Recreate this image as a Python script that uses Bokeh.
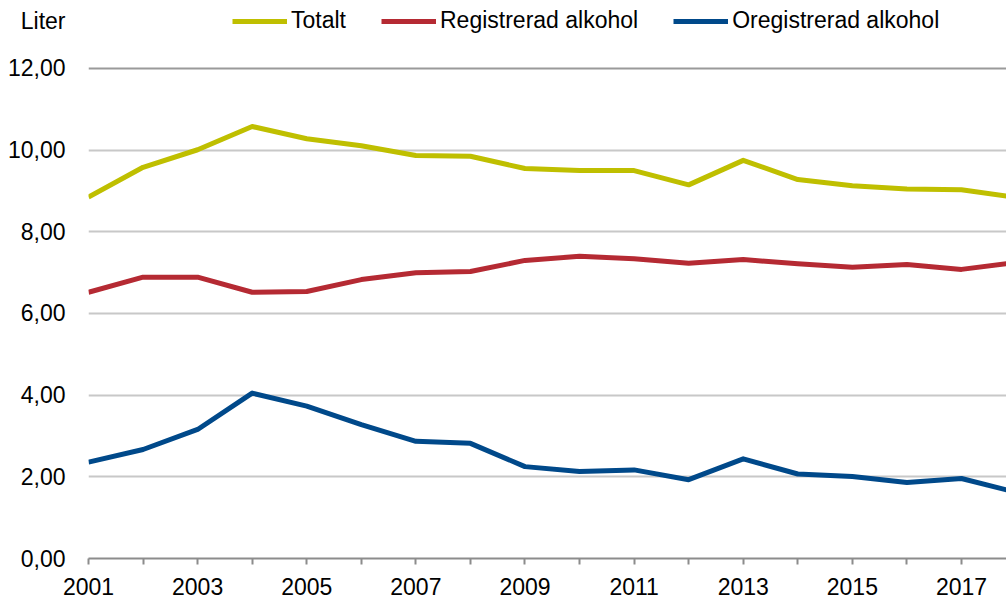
from bokeh.plotting import figure
from bokeh.models import (ColumnDataSource, FixedTicker, Legend, LegendItem, Range1d, Grid)
from bokeh.embed import file_html
from bokeh.resources import INLINE

years = list(range(2001, 2019))
totalt = [8.85, 9.58, 10.01, 10.58, 10.28, 10.11, 9.87, 9.85, 9.55, 9.50,
          9.50, 9.15, 9.75, 9.28, 9.13, 9.05, 9.03, 8.84]
registrerad = [6.52, 6.89, 6.89, 6.52, 6.54, 6.83, 7.00, 7.03, 7.30, 7.40,
               7.34, 7.23, 7.32, 7.22, 7.13, 7.20, 7.08, 7.25]
oregistrerad = [2.36, 2.67, 3.16, 4.05, 3.73, 3.28, 2.87, 2.82, 2.25, 2.13,
                2.17, 1.93, 2.44, 2.07, 2.01, 1.86, 1.96, 1.62]
series_names = ["Totalt", "Registrerad alkohol", "Oregistrerad alkohol"]
series_colors = ["#bfbf00", "#b52a33", "#00498a"]
y_ticks = [0, 2, 4, 6, 8, 10, 12]
y_tick_labels = ["0,00", "2,00", "4,00", "6,00", "8,00", "10,00", "12,00"]
x_label_years = list(range(2001, 2018, 2))
x_minor_years = list(range(2002, 2019, 2))
unit_label = "Liter"

FONT = "Liberation Sans"
FS = "23px"

Y_TOP = 13.665          # frame reaches the canvas top so the header row fits inside it
UNIT_POS = 13.16        # height (in axis units) of the header row holding the unit label

p = figure(width=1006, height=601, output_backend="svg", toolbar_location=None,
           x_range=Range1d(2001, 2017.825), y_range=Range1d(0, Y_TOP))
p.min_border_left = 88
p.min_border_right = 0
p.min_border_top = 0
p.min_border_bottom = 43
p.outline_line_color = None
p.background_fill_color = "white"
p.border_fill_color = "white"

src = ColumnDataSource(dict(year=years, t=totalt, r=registrerad, o=oregistrerad))
renderers = []
for col, color in zip(["t", "r", "o"], series_colors):
    r = p.line("year", col, source=src, line_color=color, line_width=5,
               line_join="round", line_cap="butt")
    renderers.append(r)

# x axis
p.xaxis.ticker = FixedTicker(ticks=x_label_years, minor_ticks=x_minor_years)
p.xaxis.axis_line_color = "#8c8c8c"
p.xaxis.axis_line_width = 2
p.xaxis.major_tick_line_color = "#8c8c8c"
p.xaxis.minor_tick_line_color = "#8c8c8c"
p.xaxis.major_tick_line_width = 2
p.xaxis.minor_tick_line_width = 2
p.xaxis.major_tick_in = 0
p.xaxis.major_tick_out = 6
p.xaxis.minor_tick_in = 0
p.xaxis.minor_tick_out = 6
p.xaxis.major_label_standoff = 13
p.xaxis.major_label_text_font = FONT
p.xaxis.major_label_text_font_size = FS
p.xaxis.major_label_text_color = "black"

# y axis: tick labels plus the unit label in the header row
p.yaxis.ticker = FixedTicker(ticks=y_ticks + [UNIT_POS], minor_ticks=[])
overrides = {t: l for t, l in zip(y_ticks, y_tick_labels)}
overrides[UNIT_POS] = unit_label
p.yaxis.major_label_overrides = overrides
p.yaxis.axis_line_color = None
p.yaxis.major_tick_line_color = None
p.yaxis.minor_tick_line_color = None
p.yaxis.major_tick_out = 0
p.yaxis.major_tick_in = 0
p.yaxis.major_label_standoff = 23
p.yaxis.major_label_text_font = FONT
p.yaxis.major_label_text_font_size = FS
p.yaxis.major_label_text_color = "black"

# grids
p.ygrid.ticker = FixedTicker(ticks=y_ticks[1:-1])
p.ygrid.grid_line_color = "#c8c8c8"
p.ygrid.grid_line_width = 2
# vertical axis line at the first year, limited to the value range
p.xgrid.ticker = FixedTicker(ticks=[years[0]])
p.xgrid.bounds = (y_ticks[0], y_ticks[-1])
p.xgrid.grid_line_color = "#8c8c8c"
p.xgrid.grid_line_width = 2
# darker top border line at the maximum value
top_grid = Grid(dimension=1, ticker=FixedTicker(ticks=[y_ticks[-1]]),
                grid_line_color="#9a9a9a", grid_line_width=2)
p.add_layout(top_grid)

legend = Legend(items=[LegendItem(label=n, renderers=[r]) for n, r in zip(series_names, renderers)],
                orientation="horizontal", location=(144, 524))
legend.label_text_font = FONT
legend.label_text_font_size = FS
legend.label_text_color = "black"
legend.glyph_width = 55
legend.glyph_height = 20
legend.label_standoff = 4
legend.spacing = 35
legend.padding = 0
legend.margin = 0
legend.border_line_color = None
legend.background_fill_alpha = 0
p.add_layout(legend, "center")

open("out.html", "w").write(file_html(p, INLINE))
